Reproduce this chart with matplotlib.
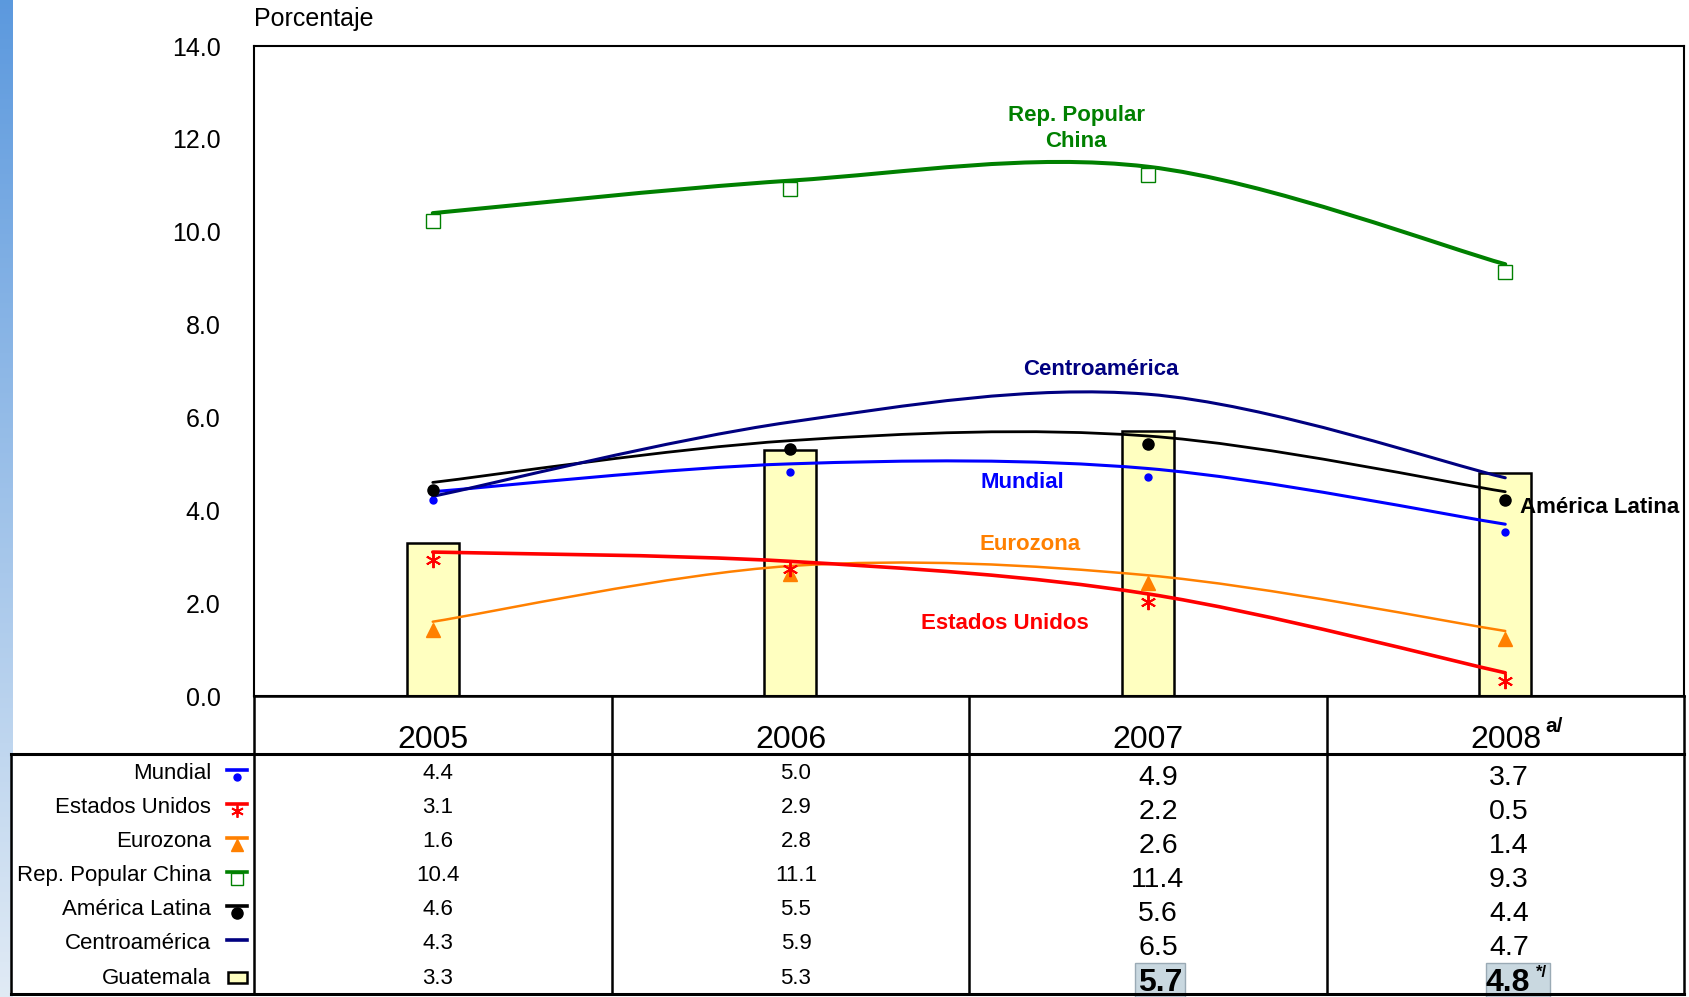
import matplotlib
matplotlib.use('Agg')
import matplotlib.pyplot as plt
import matplotlib.transforms as mtrans
from matplotlib.path import Path
from matplotlib.patches import PathPatch, Rectangle
import numpy as np

plt.rcParams['font.family'] = ['Liberation Sans', 'DejaVu Sans']

years = ['2005', '2006', '2007', '2008']
mundial = [4.4, 5.0, 4.9, 3.7]
eeuu = [3.1, 2.9, 2.2, 0.5]
eurozona = [1.6, 2.8, 2.6, 1.4]
china = [10.4, 11.1, 11.4, 9.3]
alatina = [4.6, 5.5, 5.6, 4.4]
centro = [4.3, 5.9, 6.5, 4.7]
guatemala = [3.3, 5.3, 5.7, 4.8]

names = ['Mundial', 'Estados Unidos', 'Eurozona', 'Rep. Popular China',
         'América Latina', 'Centroamérica', 'Guatemala']
table_vals = [mundial, eeuu, eurozona, china, alatina, centro, guatemala]

W, H = 1689, 997
fig = plt.figure(figsize=(W / 100, H / 100), dpi=100)

# main plot area (pixel box 254..1684 x 46..696)
ax = fig.add_axes([254 / W, 1 - 696 / H, 1430 / W, 650 / H])
x = np.arange(len(years))


def smooth(xs, ys):
    # Excel-like smoothed line: cubic bezier, catmull-rom control points
    pts = np.column_stack([xs, ys]).astype(float)
    verts = [pts[0]]
    codes = [Path.MOVETO]
    n = len(pts)
    for i in range(n - 1):
        p_prev = pts[i - 1] if i > 0 else pts[i]
        p_next2 = pts[i + 2] if i + 2 < n else pts[i + 1]
        c1 = pts[i] + (pts[i + 1] - p_prev) / 6
        c2 = pts[i + 1] - (p_next2 - pts[i]) / 6
        verts += [c1, c2, pts[i + 1]]
        codes += [Path.CURVE4] * 3
    return Path(verts, codes)


ax.bar(x, guatemala, width=0.145, color='#FFFFC0', edgecolor='black',
       linewidth=1.8, zorder=1)

mk_tr = mtrans.offset_copy(ax.transData, fig=fig, x=0, y=-8, units='dots')

series = [
    (eurozona, '#FF8000', 1.8, dict(marker='^', ms=10, mfc='#FF8000', mec='#FF8000')),
    (eeuu, '#FF0000', 2.6, dict(marker=(6, 2, 0), ms=11, mec='#FF0000', mew=1.4)),
    (mundial, '#0000FF', 2.2, dict(marker='o', ms=5, mfc='#0000FF', mec='#0000FF')),
    (alatina, '#000000', 2.0, dict(marker='o', ms=8, mfc='black', mec='black')),
    (centro, '#000080', 2.2, None),
    (china, '#008000', 2.9, dict(marker='s', ms=10, mfc='white', mec='#008000', mew=1.0)),
]
for vals, col, lw, mk in series:
    ax.add_patch(PathPatch(smooth(x, vals), fill=False, edgecolor=col,
                           linewidth=lw, zorder=3, capstyle='round'))
    if mk:
        ax.plot(x, vals, linestyle='none', transform=mk_tr, zorder=4, **mk)

ax.set_xlim(-0.5, 3.5)
ax.set_ylim(0, 14)
ax.set_yticks(np.arange(0, 14.1, 2))
ax.set_yticklabels(['%.1f' % v for v in np.arange(0, 14.1, 2)], fontsize=18)
ax.tick_params(axis='y', length=0, pad=24)
ax.set_xticks([])
for s in ax.spines.values():
    s.set_linewidth(1.5)

lab = dict(fontsize=16, fontweight='bold', ha='center', va='center')
ax.text(1.80, 12.22, 'Rep. Popular\nChina', color='#008000', linespacing=1.35, **lab)
ax.text(1.87, 7.04, 'Centroamérica', color='#000080', **lab)
ax.text(1.65, 4.59, 'Mundial', color='#0000FF', **lab)
ax.text(1.67, 3.27, 'Eurozona', color='#FF8000', **lab)
ax.text(1.60, 1.57, 'Estados Unidos', color='#FF0000', **lab)
ax.text(3.04, 4.07, 'América Latina', color='black', fontsize=16,
        fontweight='bold', ha='left', va='center')

# overlay in pixel coordinates for table and decorations
ov = fig.add_axes([0, 0, 1, 1], facecolor='none')
ov.set_xlim(0, W)
ov.set_ylim(H, 0)
ov.axis('off')

grad = np.linspace(0, 1, 200)[:, None]
c_top = np.array([0.36, 0.60, 0.87])
c_bot = np.array([0.88, 0.92, 0.96])
img = (c_top * (1 - grad[..., None]) + c_bot * grad[..., None])
ov.imshow(img, extent=[0, 13, H, 0], aspect='auto', zorder=0)

ov.text(254, 19, 'Porcentaje', fontsize=18, ha='left', va='center')

lk = dict(color='black', linewidth=1.8, solid_capstyle='projecting')
ov.plot([254, 1684], [696, 696], **lk)
ov.plot([11, 1684], [754, 754], color='black', linewidth=2.2)
ov.plot([11, 1684], [994, 994], color='black', linewidth=2.2)
ov.plot([11, 11], [754, 994], **lk)
for xv in [254, 612, 969, 1327, 1684]:
    ov.plot([xv, xv], [696, 994], **lk)

col_x = [433, 791, 1148, 1506]
for cx, yr in zip(col_x, years):
    ov.text(cx, 740, yr, fontsize=23, ha='center', va='center')
ov.text(1545, 726, 'a/', fontsize=15, fontweight='bold', ha='left', va='center')

row_y = np.array([773, 807, 841, 875, 909, 943, 978])
row_y2 = row_y + 5
val_x = [438, 796, 1158, 1509]
for r, (nm, vals) in enumerate(zip(names, table_vals)):
    ov.text(211, row_y[r], nm, fontsize=16, ha='right', va='center')
    for c in range(4):
        txt = '%.1f' % vals[c]
        if c < 2:
            ov.text(val_x[c], row_y[r], txt, fontsize=16, ha='center', va='center')
        elif r < 6:
            ov.text(val_x[c], row_y2[r], txt, fontsize=20.5, ha='center',
                    va='center')

# bold Guatemala values in 2007 and 2008
for cx, w in [(1160, 50), (1518, 64)]:
    ov.add_patch(Rectangle((cx - w / 2, 963), w, 34, facecolor='#C9D8E0',
                           edgecolor='#9AAAB5', linewidth=1, zorder=1))
ov.text(1160, 983, '%.1f' % guatemala[2], fontsize=23, fontweight='bold',
        ha='center', va='center', zorder=2)
ov.text(1508, 983, '%.1f' % guatemala[3], fontsize=23, fontweight='bold',
        ha='center', va='center', zorder=2)
ov.text(1536, 972, '*/', fontsize=12, fontweight='bold', ha='left',
        va='center', zorder=2)

# legend keys in the table
kx0, kx1, kxm = 227, 247, 237
keys = [
    ('#0000FF', dict(marker='o', ms=5, mfc='#0000FF', mec='#0000FF')),
    ('#FF0000', dict(marker=(6, 2, 0), ms=9, mec='#FF0000', mew=1.3)),
    ('#FF8000', dict(marker='^', ms=9, mfc='#FF8000', mec='#FF8000')),
    ('#008000', dict(marker='s', ms=8, mfc='white', mec='#008000', mew=1.0)),
    ('#000000', dict(marker='o', ms=8, mfc='black', mec='black')),
    ('#000080', None),
]
for r, (col, mk) in enumerate(keys):
    ov.plot([kx0, kx1], [row_y[r] - 3, row_y[r] - 3], color=col, linewidth=2.6)
    if mk:
        ov.plot([kxm], [row_y[r] + 4], linestyle='none', **mk)
ov.add_patch(Rectangle((228, row_y[6] - 6), 19, 11, facecolor='#FFFFC0',
                       edgecolor='black', linewidth=1.8))

fig.savefig('out.png', dpi=100)
